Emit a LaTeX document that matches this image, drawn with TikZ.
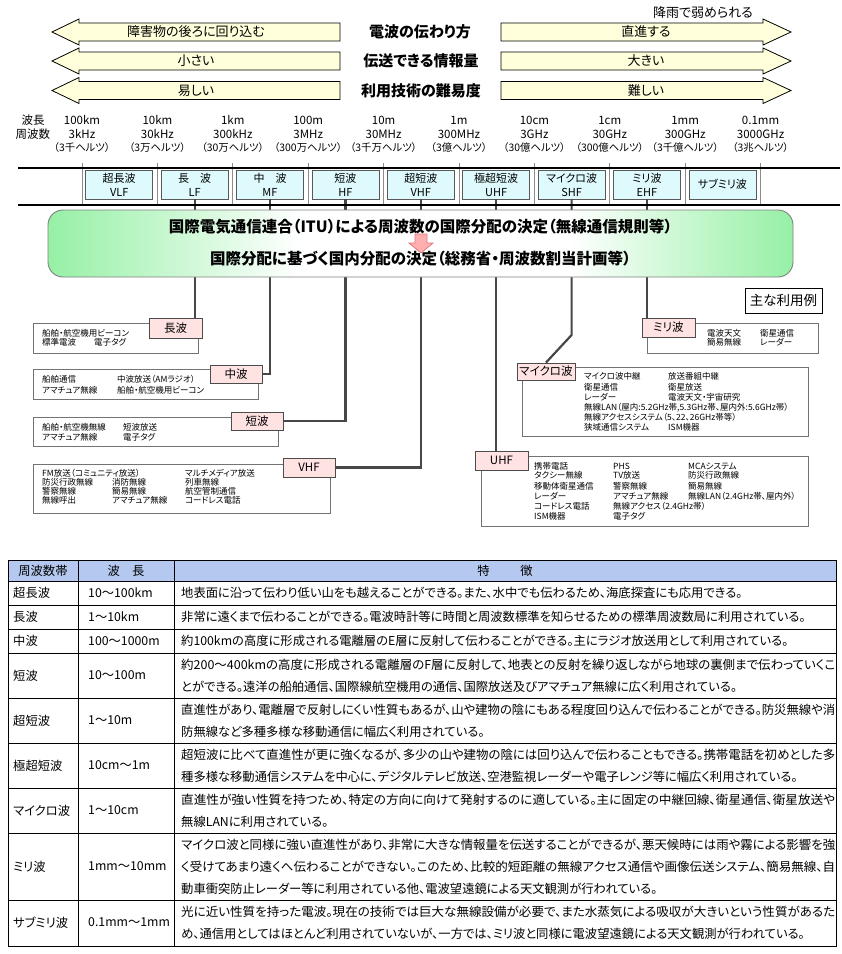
\documentclass[tikz,border=0pt]{standalone}
\usepackage{fontspec}
\setmainfont[RawFeature=+palt]{Noto Sans CJK JP}
\usepackage{graphicx}
\definecolor{cream}{RGB}{255,255,220}
\definecolor{bandc}{RGB}{222,250,252}
\definecolor{pinkl}{RGB}{255,226,226}
\definecolor{gG}{RGB}{150,240,165}
\definecolor{hdr}{RGB}{180,200,240}
\definecolor{parr}{RGB}{255,175,175}
\definecolor{parrd}{RGB}{225,120,120}
\pgfdeclarehorizontalshading{gws}{100bp}{color(0bp)=(gG); color(25bp)=(gG); color(42bp)=(white); color(60bp)=(white); color(75bp)=(gG); color(100bp)=(gG)}
\newcommand\fs[1]{\fontsize{#1}{#1}\selectfont}
\newcommand\utx[4]{\node[ut] (#1) at (#2,#3) {#4};}
\newcommand\fitline[1]{\resizebox{654pt}{\height}{#1}}
\tikzset{
 arr/.style={draw=black, fill=cream, line width=0.8pt},
 band/.style={draw=black!65, fill=bandc, line width=0.7pt, minimum width=67pt, minimum height=29pt, inner sep=0pt, align=center, font=\fontsize{11}{14}\selectfont},
 conn/.style={draw=black!72, line width=2.2pt},
 ubox/.style={draw=black!55, fill=white, line width=0.8pt},
 lbl/.style={draw=black!70, fill=pinkl, line width=0.9pt, inner sep=0pt, font=\fs{11.5}},
 ut/.style={anchor=west, inner sep=0pt, font=\fs{8.5}},
 tt/.style={anchor=west, inner sep=0pt, font=\fs{12.3}},
 freq/.style={inner sep=0pt, font=\fs{11.5}},
 hz/.style={inner sep=0pt, font=\fs{10.4}},
 divl/.style={draw=black!45, line width=0.7pt},
 hline/.style={draw=black, line width=1.6pt},
 tline/.style={draw=black, line width=0.9pt},
}
\begin{document}
\begin{tikzpicture}[x=1pt,y=-1pt]
\useasboundingbox (0,0) rectangle (842,954);
\fill[white] (0,0) rectangle (842,954);
% top arrows
\foreach \cy in {32,61,90.5}{
 \draw[arr] (52,\cy) -- (79,\cy-13) -- (79,\cy-9) -- (340,\cy-9) -- (340,\cy+9) -- (79,\cy+9) -- (79,\cy+13) -- cycle;
 \draw[arr] (501,\cy-9) -- (763,\cy-9) -- (763,\cy-13) -- (791,\cy) -- (763,\cy+13) -- (763,\cy+9) -- (501,\cy+9) -- cycle;
}
\node[font=\fs{13}] (al1) at (196,32) {障害物の後ろに回り込む};
\node[font=\fs{13}] (al2) at (196,61) {小さい};
\node[font=\fs{13}] (al3) at (196,90.5) {易しい};
\node[font=\fs{13}] (ar1) at (646,32) {直進する};
\node[font=\fs{13}] (ar2) at (646,61) {大きい};
\node[font=\fs{13}] (ar3) at (646,90.5) {難しい};
\node[font=\fs{13}] (rain) at (703,13) {降雨で弱められる};
\node[font=\bfseries\fs{15}] (c1) at (420,32) {電波の伝わり方};
\node[font=\bfseries\fs{15}] (c2) at (421,61) {伝送できる情報量};
\node[font=\bfseries\fs{15}] (c3) at (421,90.5) {利用技術の難易度};
% frequency labels
\node[freq] (lw) at (33,120) {波長};
\node[freq] (lf) at (33,134) {周波数};
\foreach \i/\w/\f/\h in {0/100km/3kHz/3千, 1/10km/30kHz/3万, 2/1km/300kHz/30万, 3/100m/3MHz/300万, 4/10m/30MHz/3千万, 5/1m/300MHz/3億, 6/10cm/3GHz/30億, 7/1cm/30GHz/300億, 8/1mm/300GHz/3千億, 9/0.1mm/3000GHz/3兆}{
 \pgfmathsetmacro\xx{82+75.4*\i}
 \node[freq] (fw\i) at (\xx,120) {\w};
 \node[freq] (ff\i) at (\xx,134) {\f};
 \node[hz] (fh\i) at (\xx,148) {（\h ヘルツ）};
 \draw[divl] (\xx,163) -- (\xx,205);
}
\draw[hline] (18,168) -- (840,168);
% band boxes
\node[band] (bVLF) at (119.2,184.5) {超長波\\VLF};
\node[band] (bLF) at (194.6,184.5) {長\hspace{1em}波\\LF};
\node[band] (bMF) at (270,184.5) {中\hspace{1em}波\\MF};
\node[band] (bHF) at (345.4,184.5) {短波\\HF};
\node[band] (bVHF) at (420.8,184.5) {超短波\\VHF};
\node[band] (bUHF) at (496.2,184.5) {極超短波\\UHF};
\node[band] (bSHF) at (571.6,184.5) {マイクロ波\\SHF};
\node[band] (bEHF) at (647,184.5) {ミリ波\\EHF};
\node[band] (bSub) at (722.4,184.5) {サブミリ波};
% usage boxes
\draw[ubox] (33,323) rectangle (198,353);
\draw[ubox] (33,369) rectangle (258,399);
\draw[ubox] (33,417) rectangle (278,446);
\draw[ubox] (33,464) rectangle (330,513);
\draw[ubox] (647,323) rectangle (818,353);
\draw[ubox] (522,367) rectangle (808,436);
\draw[ubox] (481,456) rectangle (808,526);
% labels
\node[lbl, minimum width=53pt, minimum height=20pt] (lLF) at (175.5,328) {長波};
\node[lbl, minimum width=52pt, minimum height=18pt] (lMF) at (236,374) {中波};
\node[lbl, minimum width=52pt, minimum height=18pt] (lHF) at (257,421) {短波};
\node[lbl, minimum width=52pt, minimum height=19pt] (lVHF) at (309,467.5) {VHF};
\node[lbl, minimum width=53pt, minimum height=19pt] (lUHF) at (501.5,460.5) {UHF};
\node[lbl, minimum width=58pt, minimum height=17pt] (lSHF) at (546,371.5) {マイクロ波};
\node[lbl, minimum width=53pt, minimum height=19pt] (lEHF) at (668.5,327.5) {ミリ波};
% connectors
\coordinate (kSHF) at (571.6,335);
\draw[conn] (bLF.south) -- (bLF.south |- lLF.north);
\draw[conn] (bMF.south) |- (lMF.east);
\draw[conn] (bHF.south) |- (lHF.east);
\draw[conn] (bVHF.south) |- (lVHF.east);
\draw[conn] (bUHF.south) -- (bUHF.south |- lUHF.north);
\draw[conn] (bSHF.south) -- (kSHF) -- (lSHF.north);
\draw[conn] (bEHF.south) -- (bEHF.south |- lEHF.north);
\draw[hline] (18,205) -- (840,205);
% green box
\node[shade, shading=gws, draw=black!50, line width=0.9pt, rounded corners=15pt, minimum width=745pt, minimum height=67pt, inner sep=0pt] (green) at (420.5,243.5) {};
\node[font=\bfseries\fs{15.5}] (g1) at (420.5,227) {国際電気通信連合（ITU）による周波数の国際分配の決定（無線通信規則等）};
\node[font=\bfseries\fs{15.5}] (g2) at (420.5,259) {国際分配に基づく国内分配の決定（総務省・周波数割当計画等）};
\draw[fill=parr, draw=parrd, line width=0.8pt] (415,234) -- (427,234) -- (427,243) -- (433,243) -- (421,253) -- (409,243) -- (415,243) -- cycle;
% legend
\node[draw=black, line width=1pt, minimum width=77pt, minimum height=25pt, inner sep=0pt, font=\fs{13.5}] (legend) at (783.5,300.5) {主な利用例};
% usage texts
\utx{u1}{42}{333}{船舶・航空機用ビーコン}
\utx{u2}{42}{342}{標準電波}
\utx{u3}{94}{342}{電子タグ}
\utx{u4}{42}{379}{船舶通信}
\utx{u5}{117}{379}{中波放送（AMラジオ）}
\utx{u6}{42}{390}{アマチュア無線}
\utx{u7}{117}{390}{船舶・航空機用ビーコン}
\utx{u8}{42}{427}{船舶・航空機無線}
\utx{u9}{123}{427}{短波放送}
\utx{u10}{42}{437}{アマチュア無線}
\utx{u11}{123}{437}{電子タグ}
\utx{u12}{42}{473}{FM放送（コミュニティ放送）}
\utx{u13}{185}{473}{マルチメディア放送}
\utx{u14}{42}{482}{防災行政無線}
\utx{u15}{112}{482}{消防無線}
\utx{u16}{185}{482}{列車無線}
\utx{u17}{42}{491}{警察無線}
\utx{u18}{112}{491}{簡易無線}
\utx{u19}{185}{491}{航空管制通信}
\utx{u20}{42}{500}{無線呼出}
\utx{u21}{112}{500}{アマチュア無線}
\utx{u22}{185}{500}{コードレス電話}
\utx{u23}{707}{333}{電波天文}
\utx{u24}{760}{333}{衛星通信}
\utx{u25}{707}{342}{簡易無線}
\utx{u26}{760}{342}{レーダー}
\utx{u27}{584}{376}{マイクロ波中継}
\utx{u28}{668}{376}{放送番組中継}
\utx{u29}{584}{387}{衛星通信}
\utx{u30}{668}{387}{衛星放送}
\utx{u31}{584}{397}{レーダー}
\utx{u32}{668}{397}{電波天文・宇宙研究}
\utx{u33}{584}{408}{無線LAN（屋内:5.2GHz帯,5.3GHz帯、屋内外:5.6GHz帯）}
\utx{u34}{584}{417}{無線アクセスシステム（5、22、26GHz帯等）}
\utx{u35}{584}{427}{狭域通信システム}
\utx{u36}{668}{427}{ISM機器}
\utx{u37}{534}{466}{携帯電話}
\utx{u38}{613}{466}{PHS}
\utx{u39}{688}{466}{MCAシステム}
\utx{u40}{534}{475}{タクシー無線}
\utx{u41}{613}{475}{TV放送}
\utx{u42}{688}{475}{防災行政無線}
\utx{u43}{534}{486}{移動体衛星通信}
\utx{u44}{613}{486}{警察無線}
\utx{u45}{688}{486}{簡易無線}
\utx{u46}{534}{496}{レーダー}
\utx{u47}{613}{496}{アマチュア無線}
\utx{u48}{688}{496}{無線LAN（2.4GHz帯、屋内外）}
\utx{u49}{534}{506}{コードレス電話}
\utx{u50}{613}{506}{無線アクセス（2.4GHz帯）}
\utx{u51}{534}{516}{ISM機器}
\utx{u52}{613}{516}{電子タグ}
% table
\fill[hdr] (8,560) rectangle (836,581);
\foreach \yy in {581,605,629,653,698,743,788,833,900}{\draw[tline] (8,\yy) -- (836,\yy);}
\draw[tline] (78,560) -- (78,946);
\draw[tline] (174,560) -- (174,946);
\draw[tline] (8,560) rectangle (836,946);
\node[font=\fs{12.3}] (h1) at (43,570.5) {周波数帯};
\node[font=\fs{12.3}] (h2) at (126,570.5) {波\hspace{1em}長};
\node[font=\fs{12.3}] (h3) at (505,570.5) {特\hspace{2.5em}徴};
\node[tt] (r1a) at (13,593) {超長波};
\node[tt] (r1b) at (88,593) {10～100km};
\node[tt] (r1c) at (181,593) {地表面に沿って伝わり低い山をも越えることができる。また、水中でも伝わるため、海底探査にも応用できる。};
\node[tt] (r2a) at (13,617) {長波};
\node[tt] (r2b) at (88,617) {1～10km};
\node[tt] (r2c) at (181,617) {非常に遠くまで伝わることができる。電波時計等に時間と周波数標準を知らせるための標準周波数局に利用されている。};
\node[tt] (r3a) at (13,641) {中波};
\node[tt] (r3b) at (88,641) {100～1000m};
\node[tt] (r3c) at (181,641) {約100kmの高度に形成される電離層のE層に反射して伝わることができる。主にラジオ放送用として利用されている。};
\node[tt] (r4a) at (13,675.5) {短波};
\node[tt] (r4b) at (88,675.5) {10～100m};
\node[tt] (r4c) at (181,664.5) {\fitline{約200～400kmの高度に形成される電離層のF層に反射して、地表との反射を繰り返しながら地球の裏側まで伝わっていくこ}};
\node[tt] (r4d) at (181,686.5) {とができる。遠洋の船舶通信、国際線航空機用の通信、国際放送及びアマチュア無線に広く利用されている。};
\node[tt] (r5a) at (13,720.5) {超短波};
\node[tt] (r5b) at (88,720.5) {1～10m};
\node[tt] (r5c) at (181,709.5) {\fitline{直進性があり、電離層で反射しにくい性質もあるが、山や建物の陰にもある程度回り込んで伝わることができる。防災無線や消}};
\node[tt] (r5d) at (181,731.5) {防無線など多種多様な移動通信に幅広く利用されている。};
\node[tt] (r6a) at (13,765.5) {極超短波};
\node[tt] (r6b) at (88,765.5) {10cm～1m};
\node[tt] (r6c) at (181,754.5) {\fitline{超短波に比べて直進性が更に強くなるが、多少の山や建物の陰には回り込んで伝わることもできる。携帯電話を初めとした多}};
\node[tt] (r6d) at (181,776.5) {種多様な移動通信システムを中心に、デジタルテレビ放送、空港監視レーダーや電子レンジ等に幅広く利用されている。};
\node[tt] (r7a) at (13,810.5) {マイクロ波};
\node[tt] (r7b) at (88,810.5) {1～10cm};
\node[tt] (r7c) at (181,799.5) {\fitline{直進性が強い性質を持つため、特定の方向に向けて発射するのに適している。主に固定の中継回線、衛星通信、衛星放送や}};
\node[tt] (r7d) at (181,821.5) {無線LANに利用されている。};
\node[tt] (r8a) at (13,866.5) {ミリ波};
\node[tt] (r8b) at (88,866.5) {1mm～10mm};
\node[tt] (r8c) at (181,844.5) {\fitline{マイクロ波と同様に強い直進性があり、非常に大きな情報量を伝送することができるが、悪天候時には雨や霧による影響を強}};
\node[tt] (r8d) at (181,866.5) {\fitline{く受けてあまり遠くへ伝わることができない。このため、比較的短距離の無線アクセス通信や画像伝送システム、簡易無線、自}};
\node[tt] (r8e) at (181,888.5) {動車衝突防止レーダー等に利用されている他、電波望遠鏡による天文観測が行われている。};
\node[tt] (r9a) at (13,922.5) {サブミリ波};
\node[tt] (r9b) at (88,922.5) {0.1mm～1mm};
\node[tt] (r9c) at (181,911.5) {\fitline{光に近い性質を持った電波。現在の技術では巨大な無線設備が必要で、また水蒸気による吸収が大きいという性質があるた}};
\node[tt] (r9d) at (181,933.5) {め、通信用としてはほとんど利用されていないが、一方では、ミリ波と同様に電波望遠鏡による天文観測が行われている。};
\end{tikzpicture}
\end{document}
